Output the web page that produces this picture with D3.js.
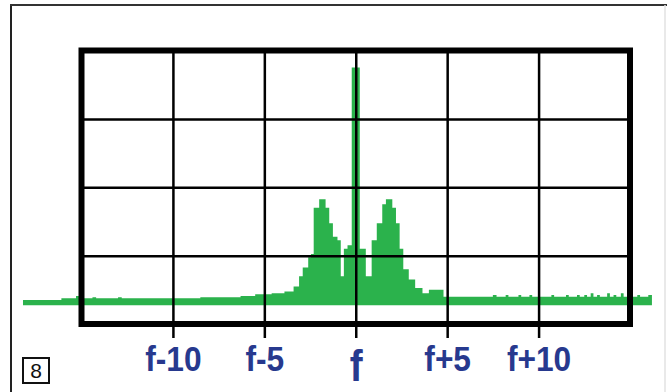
<!DOCTYPE html>
<html><head><meta charset="utf-8">
<script src="https://cdn.jsdelivr.net/npm/d3@7"></script>
<style>html,body{margin:0;padding:0;background:#fff;overflow:hidden}</style>
</head><body><svg id="c" width="667" height="392"></svg>
<script>
// Spectrum: frequency offset from carrier f (step start) and level in dB
const offsets = [-18.2, -16.1, -15.3, -15.1, -14.4, -14.2, -13.0, -12.8, -10.0, -8.5, -6.3, -5.5,
  -4.6, -3.9, -3.4, -3.1, -2.9, -2.6, -2.45, -2.3, -2.0, -1.65, -1.45, -1.25, -1.0, -0.82, -0.65, -0.45,
  -0.22, 0.22, 0.55, 0.87, 1.15, 1.45, 1.65, 2.0, 2.2, 2.4, 2.6, 2.9, 3.25, 3.65, 4.0, 4.8,
  7.5, 7.7, 8.2, 8.35, 8.9, 9.05, 9.5, 9.65, 10.7, 10.85, 11.5, 11.65, 12.1, 12.25, 12.5, 12.65,
  12.85, 13.0, 13.2, 13.35, 13.75, 13.9, 14.1, 14.25, 14.5, 14.65, 15.4, 15.55, 16.0, 16.2];
const levels = [-73, -72.5, -71.8, -72.5, -72.2, -72.5, -72.2, -72.5, -72.5, -72.2, -71.8, -71.3,
  -71, -70.5, -69, -66, -63.5, -60.5, -59.5, -46, -43.5, -46, -50.5, -54.5, -55.5, -66, -58, -57,
  -5, -58, -66, -55.5, -50.5, -45, -43.5, -46, -50.5, -58, -64, -67, -69.5, -71, -70, -72,
  -71.5, -72, -71.5, -72, -71.5, -72, -71.5, -72, -71.5, -72, -71.5, -72, -71.5, -72, -71.5, -72,
  -71, -72, -71.5, -72, -71, -72, -71.5, -72, -71, -72, -71.5, -72, -71.5, -71.5];
const floorLevel = -74.5;
const tickValues = [-10, -5, 0, 5, 10];
const tickLabels = ["f-10", "f-5", "f", "f+5", "f+10"];
const gridLevels = [-20, -40, -60];
const badge = "8";

const svg = d3.select("#c");
const L = 81.5, R = 630, T = 50.5, B = 324;
const x = d3.scaleLinear().domain([-15, 15]).range([L, R]);
const y = d3.scaleLinear().domain([-80, 0]).range([B, T]);

// page border
svg.append("line").attr("x1", 11).attr("x2", 11).attr("y1", 5).attr("y2", 392)
  .attr("stroke", "#222").attr("stroke-width", 2);
svg.append("line").attr("x1", 10).attr("x2", 667).attr("y1", 5).attr("y2", 5)
  .attr("stroke", "#333").attr("stroke-width", 2);
svg.append("line").attr("x1", 665).attr("x2", 665).attr("y1", 5).attr("y2", 392)
  .attr("stroke", "#e2e2e2").attr("stroke-width", 1.5);

const data = offsets.map((o, i) => ({o, v: levels[i]}));
const area = d3.area().curve(d3.curveStepAfter)
  .x(d => x(d.o)).y0(y(floorLevel)).y1(d => y(d.v));
svg.append("path").datum(data).attr("d", area).attr("fill", "#2bb24c");

// grid
const gx = svg.append("g").attr("transform", `translate(0,${B})`)
  .call(d3.axisBottom(x).tickValues(tickValues).tickSize(-(B - T)).tickFormat(""));
gx.select(".domain").remove();
gx.selectAll("line").attr("stroke", "#000").attr("stroke-width", 2.5);
const gy = svg.append("g").attr("transform", `translate(${L},0)`)
  .call(d3.axisLeft(y).tickValues(gridLevels).tickSize(-(R - L)).tickFormat(""));
gy.select(".domain").remove();
gy.selectAll("line").attr("stroke", "#000").attr("stroke-width", 2.5);

// ticks + labels
const ax = svg.append("g").attr("transform", `translate(0,${B})`)
  .call(d3.axisBottom(x).tickValues(tickValues).tickSize(14)
    .tickFormat((d, i) => tickLabels[i]));
ax.select(".domain").remove();
ax.selectAll("line").attr("stroke", "#000").attr("stroke-width", 2.5);
ax.selectAll("text")
  .attr("fill", "#27398e")
  .attr("font-family", "'Liberation Sans', Arial, sans-serif")
  .attr("font-weight", "bold")
  .attr("font-size", d => d === 0 ? 44 : 36)
  .attr("y", d => d === 0 ? 57 : 47)
  .attr("dy", 0)
  .attr("transform", "scale(0.88,1)");

// frame
svg.append("rect").attr("x", L).attr("y", T).attr("width", R - L).attr("height", B - T)
  .attr("fill", "none").attr("stroke", "#000").attr("stroke-width", 6);

// badge
svg.append("rect").attr("x", 23).attr("y", 358).attr("width", 26).attr("height", 25)
  .attr("fill", "#fff").attr("stroke", "#111").attr("stroke-width", 2);
svg.append("text").attr("x", 36).attr("y", 378).attr("text-anchor", "middle")
  .attr("font-family", "'Liberation Sans', Arial, sans-serif").attr("font-size", 21)
  .attr("fill", "#111").text(badge);
</script></body></html>
